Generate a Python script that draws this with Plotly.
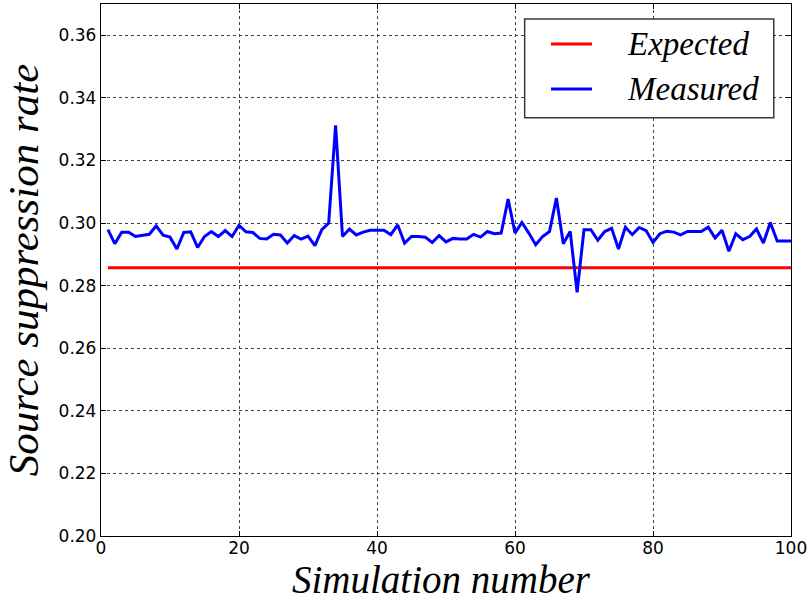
import plotly.graph_objects as go

# Simulation index and measured suppression rates
sim_number = list(range(1, 101))
measured = [
    0.2979, 0.2934, 0.2971, 0.2971, 0.2957, 0.2960, 0.2964, 0.2991, 0.2961, 0.2955,
    0.2917, 0.2970, 0.2972, 0.2922, 0.2957, 0.2973, 0.2957, 0.2976, 0.2957, 0.2993,
    0.2972, 0.2970, 0.2951, 0.2949, 0.2964, 0.2962, 0.2936, 0.2960, 0.2949, 0.2958,
    0.2928, 0.2979, 0.3000, 0.3312, 0.2957, 0.2981, 0.2962, 0.2971, 0.2977, 0.2977,
    0.2977, 0.2963, 0.2994, 0.2936, 0.2957, 0.2957, 0.2955, 0.2938, 0.2960, 0.2940,
    0.2951, 0.2949, 0.2949, 0.2964, 0.2955, 0.2973, 0.2966, 0.2968, 0.3077, 0.2968,
    0.3002, 0.2968, 0.2931, 0.2957, 0.2973, 0.3080, 0.2934, 0.2973, 0.2779, 0.2979,
    0.2979, 0.2945, 0.2973, 0.2983, 0.2917, 0.2987, 0.2963, 0.2986, 0.2976, 0.2938,
    0.2966, 0.2974, 0.2971, 0.2962, 0.2973, 0.2973, 0.2973, 0.2987, 0.2952, 0.2977,
    0.2910, 0.2966, 0.2947, 0.2957, 0.2981, 0.2936, 0.3002, 0.2943, 0.2943, 0.2943,
]
expected_rate = 0.2857
expected = [expected_rate] * len(sim_number)

x_ticks = [0, 20, 40, 60, 80, 100]
y_ticks = [0.20, 0.22, 0.24, 0.26, 0.28, 0.30, 0.32, 0.34, 0.36]

series_names = ["Expected", "Measured"]
series_colors = ["#ff0000", "#0000ff"]

serif_it = "Liberation Serif"

fig = go.Figure()
fig.add_trace(go.Scatter(
    x=sim_number, y=expected, mode="lines", name=series_names[0],
    line=dict(color=series_colors[0], width=3),
))
fig.add_trace(go.Scatter(
    x=sim_number, y=measured, mode="lines", name=series_names[1],
    line=dict(color=series_colors[1], width=3),
))

axis_common = dict(
    showline=True, linecolor="black", linewidth=1.3, mirror="ticks",
    ticks="inside", ticklen=5, tickcolor="black",
    showgrid=True, gridcolor="#444444", griddash="dot", gridwidth=1,
    zeroline=False,
    tickfont=dict(family="DejaVu Sans", size=17, color="black"),
)

fig.update_xaxes(
    range=[0, 100], tickvals=x_ticks, ticktext=[str(v) for v in x_ticks],
    ticklabelstandoff=-4,
    **axis_common,
)
fig.update_yaxes(
    range=[0.20, 0.37], tickvals=y_ticks, ticktext=[f"{v:.2f}" for v in y_ticks],
    title=dict(text="<i>Source suppression rate</i>",
               font=dict(family=serif_it, size=43, color="black"), standoff=8),
    **axis_common,
)

# Boxed legend in the upper-right corner of the axes (paper coordinates)
box_x0, box_x1, box_y0, box_y1 = 0.614, 0.975, 0.786, 0.972
sample_x0, sample_x1 = 0.6522, 0.7116
text_x = 0.7594
row_y = [0.9248, 0.8402]

shapes = [dict(
    type="rect", xref="paper", yref="paper",
    x0=box_x0, x1=box_x1, y0=box_y0, y1=box_y1,
    line=dict(color="#3a3a3a", width=1.5), fillcolor="white", layer="above",
)]
annotations = []
for name, color, ry in zip(series_names, series_colors, row_y):
    shapes.append(dict(
        type="line", xref="paper", yref="paper",
        x0=sample_x0, x1=sample_x1, y0=ry, y1=ry,
        line=dict(color=color, width=3), layer="above",
    ))
    annotations.append(dict(
        xref="paper", yref="paper", x=text_x, y=ry,
        xanchor="left", yanchor="middle", showarrow=False,
        text=f"<i>{name}</i>",
        font=dict(family=serif_it, size=33, color="black"),
    ))

# x-axis title, placed below the tick labels
annotations.append(dict(
    xref="paper", yref="paper", x=0.493, y=-0.0820,
    xanchor="center", yanchor="middle", showarrow=False,
    text="<i>Simulation number</i>",
    font=dict(family=serif_it, size=39, color="black"),
))

fig.update_layout(
    width=811, height=603,
    margin=dict(l=101, r=20, t=4, b=67),
    paper_bgcolor="white", plot_bgcolor="white",
    showlegend=False,
    shapes=shapes, annotations=annotations,
)

fig.write_html("out.html")
